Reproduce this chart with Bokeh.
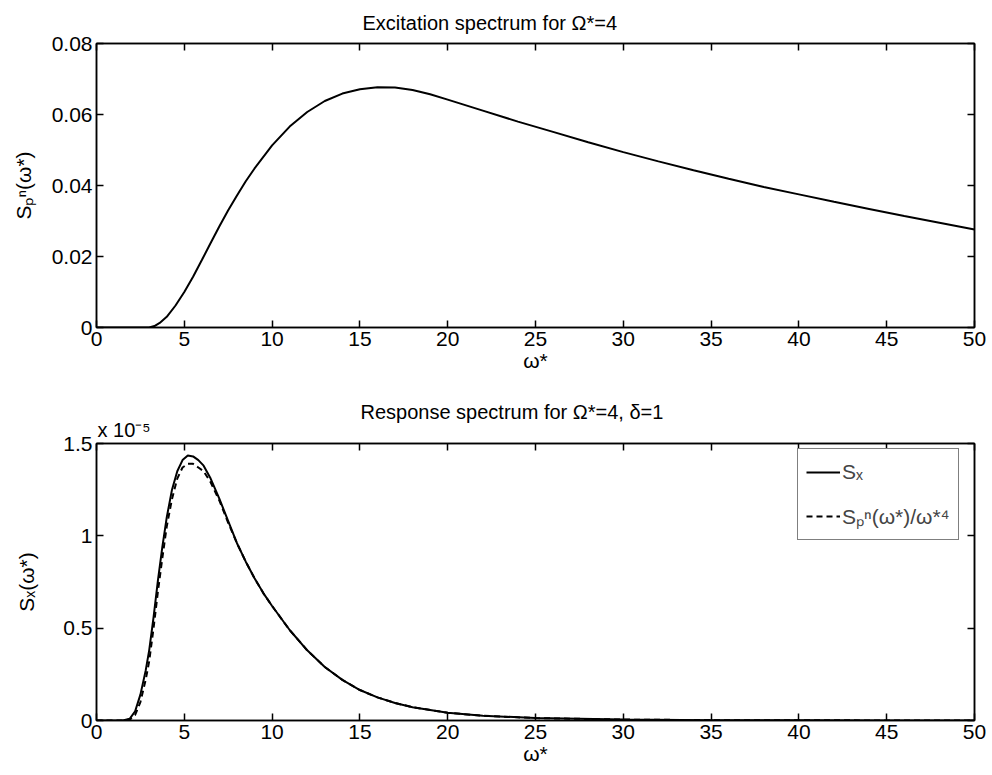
from bokeh.plotting import figure
from bokeh.layouts import column
from bokeh.models import (Range1d, LinearAxis, FixedTicker, CustomJSTickFormatter,
                          Legend, LegendItem, Title)
from bokeh.embed import file_html
from bokeh.resources import INLINE

FONT = "Liberation Sans"

# ---- data: excitation spectrum (top) ----
w_top = [0, 1, 2, 3, 3.3, 3.6, 4, 4.5, 5, 5.5, 6, 6.5, 7, 7.5, 8, 8.5, 9, 10, 11, 12, 13, 14,
         15, 16, 17, 18, 19, 20, 22, 24, 26, 28, 30, 32, 34, 36, 38, 40, 42, 44, 46, 48, 50]
Sp_top = [0, 0, 0, 0.0, 0.0004, 0.0013, 0.0030, 0.0062, 0.0100, 0.0143, 0.0190, 0.0238, 0.0285,
          0.0330, 0.0372, 0.0412, 0.0448, 0.0513, 0.0566, 0.0607, 0.0638, 0.0659, 0.0671,
          0.0677, 0.0676, 0.0669, 0.0657, 0.0642, 0.0611, 0.0580, 0.0551, 0.0522, 0.0494,
          0.0468, 0.0443, 0.0419, 0.0396, 0.0375, 0.0354, 0.0334, 0.0314, 0.0295, 0.0276]

# ---- data: response spectrum (bottom), values in units of 1e-5 ----
w_bot = [0, 1.5, 1.9, 2.2, 2.5, 2.8, 3.0, 3.25, 3.5, 3.75, 4.0, 4.3, 4.6, 4.9, 5.2, 5.5,
         5.8, 6.1, 6.5, 7.0, 7.5, 8.0, 8.5, 9.0, 9.5, 10, 11, 12, 13, 14, 15, 16, 17, 18,
         20, 22, 25, 30, 35, 40, 45, 50]
Sx = [0, 0, 0.01, 0.05, 0.14, 0.27, 0.38, 0.56, 0.76, 0.94, 1.10, 1.25, 1.35, 1.41, 1.435,
      1.43, 1.41, 1.38, 1.31, 1.20, 1.08, 0.96, 0.86, 0.77, 0.69, 0.62, 0.49, 0.38, 0.29,
      0.22, 0.165, 0.125, 0.095, 0.072, 0.042, 0.026, 0.013, 0.005, 0.002, 0.001, 0.0005, 0.0003]
Sp_w4 = [0, 0, 0.005, 0.03, 0.10, 0.22, 0.32, 0.50, 0.70, 0.88, 1.05, 1.20, 1.31, 1.37, 1.39,
         1.39, 1.37, 1.35, 1.29, 1.19, 1.07, 0.96, 0.86, 0.77, 0.69, 0.62, 0.49, 0.38, 0.29,
         0.22, 0.165, 0.125, 0.095, 0.072, 0.042, 0.026, 0.013, 0.005, 0.002, 0.001, 0.0005, 0.0003]

x_ticks = [0, 5, 10, 15, 20, 25, 30, 35, 40, 45, 50]
y_ticks_top = [0, 0.02, 0.04, 0.06, 0.08]
y_ticks_bot = [0, 0.5, 1, 1.5]

TICK_FS = "21px"


def style_axis(ax, ticks, show_labels=True):
    ax.ticker = FixedTicker(ticks=ticks)
    ax.major_tick_in = 7
    ax.major_tick_out = 0
    ax.minor_tick_line_color = None
    ax.axis_line_width = 1.5
    ax.axis_line_color = "black"
    ax.major_tick_line_width = 1.5
    ax.major_tick_line_color = "black"
    ax.major_label_text_font = FONT
    ax.axis_label_text_font = FONT
    ax.axis_label_text_font_style = "normal"
    ax.axis_label_text_font_size = "21px"
    ax.axis_label_text_color = "black"
    if show_labels:
        ax.major_label_text_color = "black"
        ax.major_label_text_font_size = TICK_FS
        ax.major_label_standoff = 4
    else:
        ax.major_label_text_color = None
        ax.major_label_text_font_size = "0px"
        ax.major_label_standoff = 0
        ax.axis_label_standoff = 0


def make_fig(ymax, yticks, yfmt, ylabel, ylabel_standoff, fh, top, bottom):
    p = figure(frame_width=878, frame_height=fh, output_backend="svg", toolbar_location=None,
               title=None, x_range=Range1d(0, 50), y_range=Range1d(0, ymax),
               min_border_left=96, min_border_right=18, min_border_top=top,
               min_border_bottom=bottom)
    p.xgrid.visible = False
    p.ygrid.visible = False
    p.outline_line_color = "black"
    p.outline_line_width = 1.5
    p.background_fill_color = "white"
    p.border_fill_color = "white"
    style_axis(p.xaxis[0], x_ticks)
    style_axis(p.yaxis[0], yticks)
    p.yaxis[0].formatter = CustomJSTickFormatter(code=yfmt)
    p.xaxis[0].axis_label = "ω*"
    p.xaxis[0].axis_label_standoff = 0
    p.yaxis[0].axis_label = ylabel
    p.yaxis[0].axis_label_standoff = ylabel_standoff
    ax_top = LinearAxis()
    style_axis(ax_top, x_ticks, show_labels=False)
    p.add_layout(ax_top, "above")
    ax_right = LinearAxis()
    style_axis(ax_right, yticks, show_labels=False)
    p.add_layout(ax_right, "right")
    return p


def make_title(text, offset, standoff, size="20px"):
    return Title(text=text, text_font=FONT, text_font_style="normal", text_font_size=size,
                 align="left", offset=offset, standoff=standoff, text_color="black")


p1 = make_fig(0.08, y_ticks_top, "return tick == 0 ? '0' : tick.toFixed(2);",
              "Sₚⁿ(ω*)", 14, 284, 43, 63)
p1.add_layout(make_title("Excitation spectrum for Ω*=4", 266, 19), "above")
p1.line(w_top, Sp_top, line_color="black", line_width=2)

p2 = make_fig(1.5, y_ticks_bot, "return String(tick);", "Sₓ(ω*)", 22, 277, 53, 55)
p2.add_layout(make_title("x 10⁻⁵", 1, 5), "above")
p2.add_layout(make_title("Response spectrum for Ω*=4, δ=1", 264, -16), "above")
r1 = p2.line(w_bot, Sx, line_color="black", line_width=2)
r2 = p2.line(w_bot, Sp_w4, line_color="black", line_width=2, line_dash="6 4")

legend = Legend(items=[LegendItem(label="Sₓ", renderers=[r1]),
                       LegendItem(label="Sₚⁿ(ω*)/ω*⁴", renderers=[r2])],
                location=(701, 180))
legend.border_line_color = "black"
legend.border_line_width = 1.5
legend.background_fill_color = "white"
legend.background_fill_alpha = 1
legend.label_text_font = FONT
legend.label_text_font_size = "21px"
legend.label_height = 30
legend.glyph_height = 30
legend.glyph_width = 34
legend.label_standoff = 2
legend.padding = 8
legend.spacing = 14
legend.margin = 0
p2.add_layout(legend)

layout = column(p1, p2, spacing=0)
open("out.html", "w").write(file_html(layout, INLINE))
